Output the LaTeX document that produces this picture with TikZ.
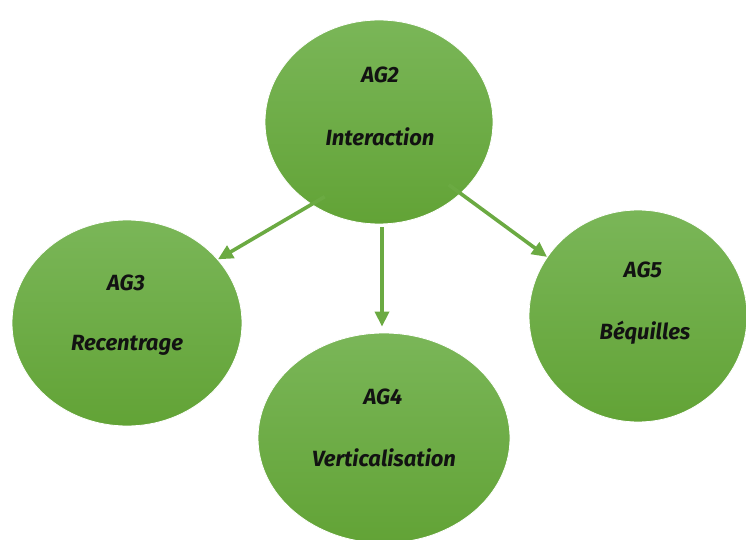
\documentclass[tikz,border=0pt]{standalone}
\usepackage{fontspec}
\setmainfont{Fira Sans}
\usetikzlibrary{shapes.geometric,arrows.meta,calc}
\definecolor{gtop}{HTML}{7AB658}
\definecolor{gbot}{HTML}{62A336}
\definecolor{arrowgreen}{HTML}{6BAA42}
\begin{document}
\begin{tikzpicture}[x=1pt,y=-1pt,
  blob/.style={ellipse,inner sep=0pt,draw=white,line width=0.8pt,top color=gtop,bottom color=gbot},
  lab/.style={font=\fontsize{22}{25}\selectfont\bfseries\itshape,text=black!93},
  conn/.style={draw=arrowgreen,line width=3.6pt,-{Triangle[length=15pt,width=14pt]}}]
\useasboundingbox (0,0) rectangle (746,540);
\node[blob,minimum width=228pt,minimum height=204pt] (ag2) at (379,122) {};
\node[blob,minimum width=230pt,minimum height=206pt] (ag3) at (127,323) {};
\node[blob,minimum width=252pt,minimum height=210pt] (ag4) at (384,438) {};
\node[blob,minimum width=218pt,minimum height=212pt] (ag5) at (638,316) {};
\node[lab] (t2a) at (380,75) {AG2};
\node[lab] (t2b) at (380,137) {Interaction};
\node[lab] (t3a) at (126,283) {AG3};
\node[lab] (t3b) at (127,345) {Recentrage};
\node[lab] (t4a) at (383,397) {AG4};
\node[lab] (t4b) at (384,458) {Verticalisation};
\node[lab] (t5a) at (643,270) {AG5};
\node[lab] (t5b) at (645,333) {Béquilles};
\draw[conn] ($(ag2.center)!0.87!(ag2.234)$) -- (ag3.35);
\draw[conn] ([xshift=3pt,yshift=-3pt]ag2.south) -- ([xshift=-2pt,yshift=6pt]ag4.north);
\draw[conn] ($(ag2.center)!0.865!(ag2.-42.4)$) -- (ag5.147.2);
\end{tikzpicture}
\end{document}
